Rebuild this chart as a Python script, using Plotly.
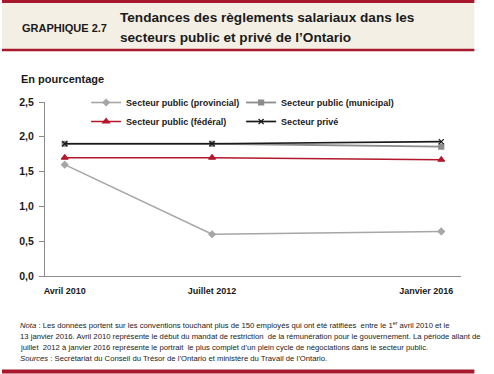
import plotly.graph_objects as go

dates = ["2010-04-01", "2012-07-01", "2016-01-01"]
tick_labels = ["Avril 2010", "Juillet 2012", "Janvier 2016"]
provincial = [1.6, 0.6, 0.64]
municipal = [1.9, 1.9, 1.86]
federal = [1.7, 1.7, 1.67]
prive = [1.9, 1.9, 1.93]
names = ["Secteur public (provincial)", "Secteur public (municipal)",
         "Secteur public (fédéral)", "Secteur privé"]
y_ticks = [0, 0.5, 1.0, 1.5, 2.0, 2.5]
y_tick_labels = ["0,0", "0,5", "1,0", "1,5", "2,0", "2,5"]

W, H = 494, 374
L, R, T, B = 45, 480, 102, 276
FONT = "Liberation Sans, Arial, sans-serif"
RED = "#A8192E"
TXT = "#1a1a1a"


def px(x):
    return (x - L) / (R - L)


def py(y):
    return (B - y) / (B - T)


fig = go.Figure()
series = [
    (provincial, names[0], "#A6A6A6", "diamond", 5, 1.6),
    (municipal, names[1], "#8C8C8C", "square", 5, 1.8),
    (federal, names[2], "#B2182B", "triangle-up", 6, 1.5),
    (prive, names[3], "#1A1A1A", "x-thin-open", 5, 1.7),
]
for vals, nm, col, sym, sz, lw in series:
    fig.add_trace(go.Scatter(
        x=dates, y=vals, name=nm, mode="lines+markers",
        line=dict(color=col, width=lw),
        marker=dict(symbol=sym, size=sz, color=col, line=dict(color=col, width=1.2)),
    ))

shapes = [
    dict(type="rect", xref="paper", yref="paper", x0=px(0), x1=px(W), y0=py(50), y1=py(2),
         fillcolor="#F4EFE4", line=dict(width=0), layer="below"),
    dict(type="line", xref="paper", yref="paper", x0=px(0), x1=px(W), y0=py(1.5), y1=py(1.5),
         line=dict(color=RED, width=3)),
    dict(type="line", xref="paper", yref="paper", x0=px(0), x1=px(W), y0=py(50), y1=py(50),
         line=dict(color=RED, width=2.5)),
    dict(type="line", xref="paper", yref="paper", x0=px(0), x1=px(W), y0=py(371.5), y1=py(371.5),
         line=dict(color=RED, width=4)),
]

note_lines = [
    "<i>Nota</i> : Les données portent sur les conventions touchant plus de 150 employés qui ont été ratifiées  entre le 1<sup>er</sup> avril 2010 et le",
    "13 janvier 2016. Avril 2010 représente le début du mandat de restriction  de la rémunération pour le gouvernement. La période allant de",
    "juillet  2012 à janvier 2016 représente le portrait  le plus complet d’un plein cycle de négociations dans le secteur public.",
    "<i>Sources</i> : Secrétariat du Conseil du Trésor de l’Ontario et ministère du Travail de l’Ontario.",
]
note_y = [324.5, 336, 347.3, 358.5]


def ann(text, x, y, size, bold=False, xanchor="left"):
    return dict(text=text, x=px(x), y=py(y), xref="paper", yref="paper",
                xanchor=xanchor, yanchor="middle", showarrow=False, align="left",
                font=dict(size=size, color=TXT, weight="bold" if bold else "normal"))


annotations = [
    ann("GRAPHIQUE 2.7", 19, 28, 11, True),
    ann("Tendances des règlements salariaux dans les", 121, 18, 13.6, True),
    ann("secteurs public et privé de l’Ontario", 121, 37.5, 13.6, True),
    ann("En pourcentage", 18, 79, 11, True),
]
for t, yy in zip(note_lines, note_y):
    annotations.append(ann(t, 17, yy, 7.7))

fig.update_layout(
    width=W, height=H,
    margin=dict(l=L, r=W - R, t=T, b=H - B, pad=0),
    paper_bgcolor="white", plot_bgcolor="white",
    font=dict(family=FONT, color=TXT),
    shapes=shapes, annotations=annotations,
    showlegend=True,
    legend=dict(orientation="h", x=px(88), y=py(88), xanchor="left", yanchor="top",
                entrywidth=110, entrywidthmode="pixels", traceorder="normal",
                font=dict(size=9, color=TXT, weight="bold"), bgcolor="rgba(0,0,0,0)",
                itemwidth=30),
    xaxis=dict(type="date", range=["2009-12-12", "2016-04-20"],
               tickvals=dates,
               ticktext=tick_labels[:-1] + [tick_labels[-1] + "\u00a0" * 12],
               showline=True, linecolor="#8C8C8C", linewidth=1, showgrid=False,
               ticks="", tickfont=dict(size=9, weight="bold"), zeroline=False,
               fixedrange=True, ticklabelstandoff=6, ticklabeloverflow="allow"),
    yaxis=dict(range=[0, 2.5], tickvals=y_ticks, ticktext=y_tick_labels,
               showline=True, linecolor="#8C8C8C", linewidth=1, showgrid=False,
               ticks="outside", ticklen=5, tickcolor="#8C8C8C",
               tickfont=dict(size=10.5, weight="bold"),
               zeroline=False, fixedrange=True, ticklabelstandoff=3),
)

fig.write_html("out.html", config={"displayModeBar": False},
               post_script="document.body.style.margin='0';")
